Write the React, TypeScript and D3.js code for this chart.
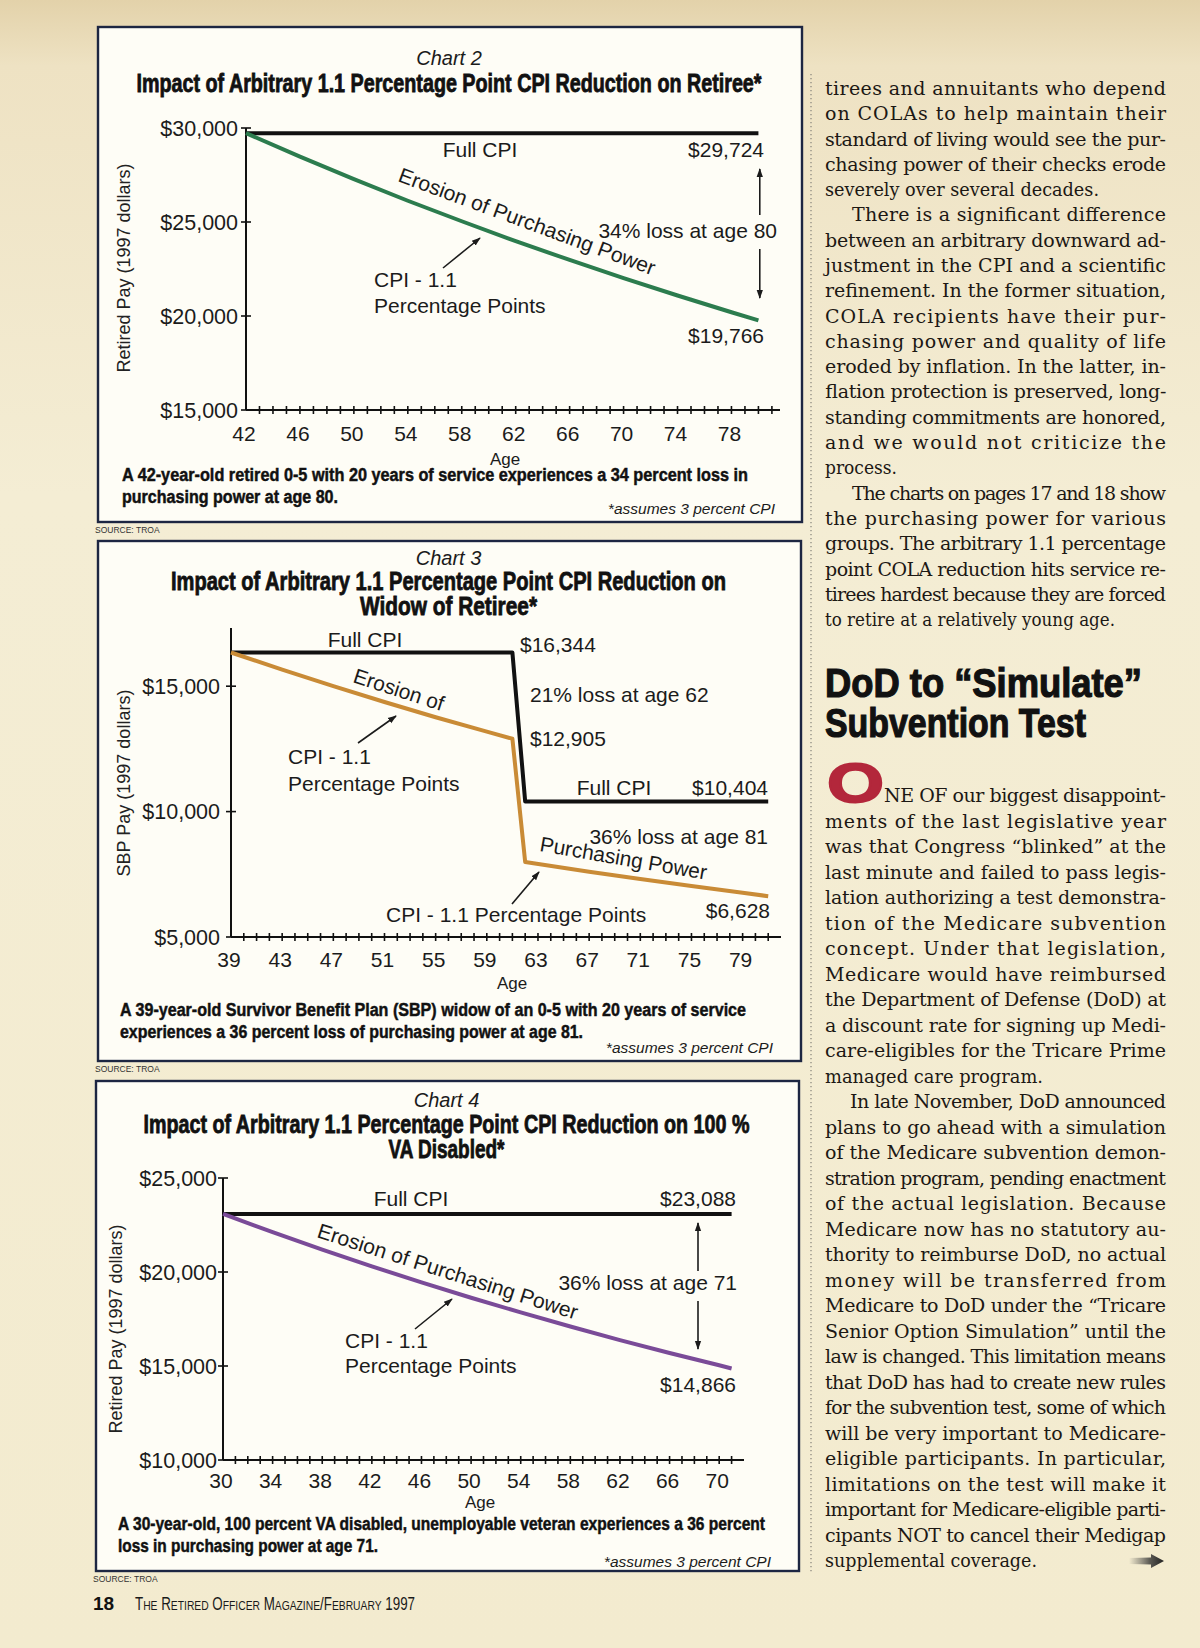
import * as d3 from "d3";

const SANS = "'Liberation Sans', Arial, Helvetica, sans-serif";
const NARROW = "'Liberation Sans Narrow', 'Liberation Sans', Arial, sans-serif";
const SERIF = "'DejaVu Serif', 'Liberation Serif', serif";
const INK = "#1b1b1b";

// Chart 2: retiree, age 42 to 80
const c2AgeTicks = [42, 46, 50, 54, 58, 62, 66, 70, 74, 78];
const c2PayTicks = [15000, 20000, 25000, 30000];
const c2FullAges = [42, 80];
const c2FullPay = [29724, 29724];
const c2CutAges = [42, 46, 50, 54, 58, 62, 66, 70, 74, 78, 80];
const c2CutPay = [29724, 28480, 27280, 26130, 25040, 23980, 22980, 22010, 21090, 20200, 19766];

// Chart 3: widow of retiree, age 39 to 81 (SBP drop at 62)
const c3AgeTicks = [39, 43, 47, 51, 55, 59, 63, 67, 71, 75, 79];
const c3PayTicks = [5000, 10000, 15000];
const c3FullAges = [39, 61, 62, 81];
const c3FullPay = [16344, 16344, 10404, 10404];
const c3CutAges = [39, 43, 47, 51, 55, 59, 61, 62, 67, 71, 75, 79, 81];
const c3CutPay = [16344, 15660, 15000, 14370, 13760, 13190, 12905, 7990, 7600, 7310, 7030, 6760, 6628];

// Chart 4: 100% VA disabled, age 30 to 71
const c4AgeTicks = [30, 34, 38, 42, 46, 50, 54, 58, 62, 66, 70];
const c4PayTicks = [10000, 15000, 20000, 25000];
const c4FullAges = [30, 71];
const c4FullPay = [23088, 23088];
const c4CutAges = [30, 34, 38, 42, 46, 50, 54, 58, 62, 66, 70, 71];
const c4CutPay = [23088, 22120, 21190, 20300, 19450, 18630, 17850, 17100, 16380, 15690, 15040, 14866];

const money = (v: number) => "$" + d3.format(",")(v);

function Arrow({ x1, y1, x2, y2 }: any) {
  return <line x1={x1} y1={y1} x2={x2} y2={y2} stroke={INK} strokeWidth={1.6} markerEnd="url(#ah)" />;
}

function T(props: any) {
  const { children, ...rest } = props;
  return (
    <text fontFamily={SANS} fontSize={21} fill={INK} {...rest}>
      {children}
    </text>
  );
}

function Panel(p: any) {
  const x = d3.scaleLinear().domain(p.xDomain).range(p.xRange);
  const y = d3.scaleLinear().domain(p.yDomain).range(p.yRange);
  const line = d3
    .line<[number, number]>()
    .x((d) => x(d[0]))
    .y((d) => y(d[1]));
  const x0 = p.xRange[0];
  const y0 = p.yRange[0];
  const minor = d3.range(Math.ceil(p.xDomain[0]) + 1, Math.floor(p.xDomain[1] - 0.3) + 1, 1);
  const cx = p.box.x + p.box.w / 2 - 1;
  return (
    <g>
      <rect x={p.box.x} y={p.box.y} width={p.box.w} height={p.box.h} fill="#fefdf6" stroke="#1d2642" strokeWidth={2.4} />
      <text x={p.box.x - 3} y={p.box.y + p.box.h + 11} fontFamily={SANS} fontSize={8.5} fill="#333">
        SOURCE: TROA
      </text>
      <text x={cx} y={p.labelY} textAnchor="middle" fontFamily={SANS} fontStyle="italic" fontSize={20} fill={INK}>
        {p.label}
      </text>
      {p.titles.map((t: any, i: number) => (
        <text key={i} x={cx} y={t.y} textAnchor="middle" fontFamily={NARROW} fontWeight="bold" fontSize={25}
          fill="#111" stroke="#111" strokeWidth={0.8} textLength={t.w} lengthAdjust="spacingAndGlyphs">
          {t.text}
        </text>
      ))}

      {/* axes */}
      <line x1={x0} y1={p.yRange[1]} x2={x0} y2={y0} stroke="#111" strokeWidth={2} />
      <line x1={x0} y1={y0} x2={p.xRange[1]} y2={y0} stroke="#111" strokeWidth={2} />
      {minor.map((a: number) => (
        <line key={a} x1={x(a)} x2={x(a)} y1={y0 - 4} y2={y0 + 4} stroke="#111" strokeWidth={1.6} />
      ))}
      {p.payTicks.map((v: number) => (
        <g key={v}>
          <line x1={x0 - 5} x2={v === p.yDomain[0] ? x0 : x0 + 5} y1={y(v)} y2={y(v)} stroke="#111" strokeWidth={1.6} />
          <T x={x0 - p.tickGap} y={y(v) + 7.5} textAnchor="end" fontSize={21.5}>
            {money(v)}
          </T>
        </g>
      ))}
      {p.ageTicks.map((a: number) => (
        <T key={a} x={x(a) - 2} y={p.ageLabelY} textAnchor="middle" fontSize={21}>
          {a}
        </T>
      ))}
      <T x={p.ageTitle[0]} y={p.ageTitle[1]} textAnchor="middle" fontSize={17}>
        Age
      </T>
      <T transform={`translate(${p.yTitle[0]},${p.yTitle[1]}) rotate(-90)`} textAnchor="middle" fontSize={18} fill="#222">
        {p.yTitleText}
      </T>

      {/* series */}
      {p.series.map((s: any, i: number) => (
        <path key={i} d={line(s.ages.map((a: number, j: number) => [a, s.pay[j]]) as any) || ""} fill="none"
          stroke={s.color} strokeWidth={4} strokeLinejoin="round" />
      ))}

      {p.annotate(x, y)}

      {p.captions.map((c: any, i: number) => (
        <text key={i} x={p.captionX} y={c.y} fontFamily={NARROW} fontWeight="bold" fontSize={17.5} fill="#111"
          stroke="#111" strokeWidth={0.45} textLength={c.w} lengthAdjust="spacingAndGlyphs">
          {c.text}
        </text>
      ))}
      <text x={p.assumes[0]} y={p.assumes[1]} textAnchor="end" fontFamily={SANS} fontStyle="italic" fontSize={15.5} fill={INK}>
        *assumes 3 percent CPI
      </text>
    </g>
  );
}

type Line = { t: string; w?: number; ind?: number };

const colTop: Line[] = [
  { t: "tirees and annuitants who depend" },
  { t: "on COLAs to help maintain their" },
  { t: "standard of living would see the pur-" },
  { t: "chasing power of their checks erode" },
  { t: "severely over several decades.", w: 274 },
  { t: "There is a significant difference", ind: 27 },
  { t: "between an arbitrary downward ad-" },
  { t: "justment in the CPI and a scientific" },
  { t: "refinement. In the former situation," },
  { t: "COLA recipients have their pur-" },
  { t: "chasing power and quality of life" },
  { t: "eroded by inflation. In the latter, in-" },
  { t: "flation protection is preserved, long-" },
  { t: "standing commitments are honored," },
  { t: "and we would not criticize the" },
  { t: "process.", w: 72 },
  { t: "The charts on pages 17 and 18 show", ind: 27 },
  { t: "the purchasing power for various" },
  { t: "groups. The arbitrary 1.1 percentage" },
  { t: "point COLA reduction hits service re-" },
  { t: "tirees hardest because they are forced" },
  { t: "to retire at a relatively young age.", w: 290 },
];

const colBottom: Line[] = [
  { t: "NE OF our biggest disappoint-", ind: 59 },
  { t: "ments of the last legislative year" },
  { t: "was that Congress \u201cblinked\u201d at the" },
  { t: "last minute and failed to pass legis-" },
  { t: "lation authorizing a test demonstra-" },
  { t: "tion of the Medicare subvention" },
  { t: "concept. Under that legislation," },
  { t: "Medicare would have reimbursed" },
  { t: "the Department of Defense (DoD) at" },
  { t: "a discount rate for signing up Medi-" },
  { t: "care-eligibles for the Tricare Prime" },
  { t: "managed care program.", w: 218 },
  { t: "In late November, DoD announced", ind: 25 },
  { t: "plans to go ahead with a simulation" },
  { t: "of the Medicare subvention demon-" },
  { t: "stration program, pending enactment" },
  { t: "of the actual legislation. Because" },
  { t: "Medicare now has no statutory au-" },
  { t: "thority to reimburse DoD, no actual" },
  { t: "money will be transferred from" },
  { t: "Medicare to DoD under the \u201cTricare" },
  { t: "Senior Option Simulation\u201d until the" },
  { t: "law is changed. This limitation means" },
  { t: "that DoD has had to create new rules" },
  { t: "for the subvention test, some of which" },
  { t: "will be very important to Medicare-" },
  { t: "eligible participants. In particular," },
  { t: "limitations on the test will make it" },
  { t: "important for Medicare-eligible parti-" },
  { t: "cipants NOT to cancel their Medigap" },
  { t: "supplemental coverage.", w: 212 },
];

const COL_X = 825;
const COL_W = 341;

function Column({ lines, top, step }: { lines: Line[]; top: number; step: number }) {
  return (
    <g>
      {lines.map((l, i) => {
        const ind = l.ind || 0;
        return (
          <text key={i} x={COL_X + ind} y={top + i * step} fontFamily={SERIF} fontSize={19} fill="#1c1814"
            textLength={l.w ?? COL_W - ind} lengthAdjust={l.w ? "spacingAndGlyphs" : "spacing"}>
            {l.t}
          </text>
        );
      })}
    </g>
  );
}

export default function App() {
  return (
    <svg width={1200} height={1648} viewBox="0 0 1200 1648" style={{ position: "absolute", left: 0, top: 0, display: "block" }}>
      <defs>
        <linearGradient id="paper" x1="0" y1="0" x2="0" y2="1">
          <stop offset="0" stopColor="#e3d2aa" />
          <stop offset="0.04" stopColor="#eee2c3" />
          <stop offset="0.3" stopColor="#f4edd4" />
          <stop offset="1" stopColor="#f3ebcf" />
        </linearGradient>
        <linearGradient id="arrowfade" x1="0" x2="1">
          <stop offset="0" stopColor="#444" stopOpacity="0" />
          <stop offset="0.6" stopColor="#333" stopOpacity="0.8" />
          <stop offset="1" stopColor="#222" />
        </linearGradient>
        <marker id="ah" viewBox="0 0 10 10" refX="9" refY="5" markerWidth="9" markerHeight="9"
          markerUnits="userSpaceOnUse" orient="auto">
          <path d="M0,1.5 L10,5 L0,8.5 z" fill={INK} />
        </marker>
      </defs>
      <rect width={1200} height={1648} fill="url(#paper)" />

      {/* Chart 2 */}
      <Panel
        box={{ x: 98, y: 27, w: 704, h: 495 }}
        label="Chart 2"
        labelY={65}
        titles={[{ text: "Impact of Arbitrary 1.1 Percentage Point CPI Reduction on Retiree*", y: 92, w: 625 }]}
        xDomain={[42, 81.6]}
        xRange={[246, 780]}
        yDomain={[15000, 30000]}
        yRange={[410, 128]}
        ageTicks={c2AgeTicks}
        payTicks={c2PayTicks}
        tickGap={8}
        ageLabelY={441}
        ageTitle={[505, 465]}
        yTitle={[130, 268]}
        yTitleText="Retired Pay (1997 dollars)"
        series={[
          { ages: c2FullAges, pay: c2FullPay, color: "#111" },
          { ages: c2CutAges, pay: c2CutPay, color: "#2c7c4e" },
        ]}
        captionX={122}
        captions={[
          { text: "A 42-year-old retired 0-5 with 20 years of service experiences a 34 percent loss in", y: 481, w: 626 },
          { text: "purchasing power at age 80.", y: 503, w: 216 },
        ]}
        assumes={[775, 514]}
        annotate={(x: any, y: any) => (
          <g>
            <T x={480} y={157} textAnchor="middle">Full CPI</T>
            <T x={764} y={157} textAnchor="end">{money(c2FullPay[1])}</T>
            <Arrow x1={x(80.1)} y1={215} x2={x(80.1)} y2={169} />
            <T x={777} y={238} textAnchor="end">34% loss at age 80</T>
            <Arrow x1={x(80.1)} y1={249} x2={x(80.1)} y2={298} />
            <T transform="translate(397,181) rotate(20.3)" textLength={272} lengthAdjust="spacingAndGlyphs">
              Erosion of Purchasing Power
            </T>
            <Arrow x1={443} y1={268} x2={480} y2={238} />
            <T x={374} y={287}>CPI - 1.1</T>
            <T x={374} y={313}>Percentage Points</T>
            <T x={764} y={y(c2CutPay[c2CutPay.length - 1]) + 23} textAnchor="end">
              {money(c2CutPay[c2CutPay.length - 1])}
            </T>
          </g>
        )}
      />

      {/* Chart 3 */}
      <Panel
        box={{ x: 98, y: 541, w: 703, h: 520 }}
        label="Chart 3"
        labelY={565}
        titles={[
          { text: "Impact of Arbitrary 1.1 Percentage Point CPI Reduction on", y: 590, w: 555 },
          { text: "Widow of Retiree*", y: 615, w: 177 },
        ]}
        xDomain={[39, 82]}
        xRange={[231, 781]}
        yDomain={[5000, 17320]}
        yRange={[937, 628]}
        ageTicks={c3AgeTicks}
        payTicks={c3PayTicks}
        tickGap={11}
        ageLabelY={967}
        ageTitle={[512, 989]}
        yTitle={[130, 783]}
        yTitleText="SBP Pay (1997 dollars)"
        series={[
          { ages: c3FullAges, pay: c3FullPay, color: "#111" },
          { ages: c3CutAges, pay: c3CutPay, color: "#c98b36" },
        ]}
        captionX={120}
        captions={[
          { text: "A 39-year-old Survivor Benefit Plan (SBP) widow of an 0-5 with 20 years of service", y: 1016, w: 626 },
          { text: "experiences a 36 percent loss of purchasing power at age 81.", y: 1038, w: 463 },
        ]}
        assumes={[773, 1053]}
        annotate={(x: any, y: any) => (
          <g>
            <T x={365} y={647} textAnchor="middle">Full CPI</T>
            <T x={520} y={652}>{money(c3FullPay[0])}</T>
            <T x={530} y={702}>21% loss at age 62</T>
            <T x={530} y={746}>{money(c3CutPay[6])}</T>
            <T x={614} y={795} textAnchor="middle">Full CPI</T>
            <T x={768} y={795} textAnchor="end">{money(c3FullPay[3])}</T>
            <T x={768} y={844} textAnchor="end">36% loss at age 81</T>
            <T transform="translate(352,682) rotate(18)" textLength={94} lengthAdjust="spacingAndGlyphs">Erosion of</T>
            <T transform="translate(539,851) rotate(9.8)" textLength={169} lengthAdjust="spacingAndGlyphs">
              Purchasing Power
            </T>
            <Arrow x1={358} y1={743} x2={396} y2={716} />
            <T x={288} y={764}>CPI - 1.1</T>
            <T x={288} y={791}>Percentage Points</T>
            <Arrow x1={512} y1={904} x2={539} y2={872} />
            <T x={386} y={922}>CPI - 1.1 Percentage Points</T>
            <T x={770} y={y(c3CutPay[c3CutPay.length - 1]) + 22} textAnchor="end">
              {money(c3CutPay[c3CutPay.length - 1])}
            </T>
          </g>
        )}
      />

      {/* Chart 4 */}
      <Panel
        box={{ x: 96, y: 1081, w: 703, h: 490 }}
        label="Chart 4"
        labelY={1107}
        titles={[
          { text: "Impact of Arbitrary 1.1 Percentage Point CPI Reduction on 100 %", y: 1133, w: 606 },
          { text: "VA Disabled*", y: 1158, w: 116 },
        ]}
        xDomain={[30, 72]}
        xRange={[223, 744]}
        yDomain={[10000, 25000]}
        yRange={[1460, 1178]}
        ageTicks={c4AgeTicks}
        payTicks={c4PayTicks}
        tickGap={6}
        ageLabelY={1488}
        ageTitle={[480, 1508]}
        yTitle={[122, 1329]}
        yTitleText="Retired Pay (1997 dollars)"
        series={[
          { ages: c4FullAges, pay: c4FullPay, color: "#111" },
          { ages: c4CutAges, pay: c4CutPay, color: "#7a4b98" },
        ]}
        captionX={118}
        captions={[
          { text: "A 30-year-old, 100 percent VA disabled, unemployable veteran experiences a 36 percent", y: 1530, w: 647 },
          { text: "loss in purchasing power at age 71.", y: 1552, w: 260 },
        ]}
        assumes={[771, 1567]}
        annotate={(x: any, y: any) => (
          <g>
            <T x={411} y={1206} textAnchor="middle">Full CPI</T>
            <T x={736} y={1206} textAnchor="end">{money(c4FullPay[0])}</T>
            <Arrow x1={698} y1={1271} x2={698} y2={1223} />
            <T x={737} y={1290} textAnchor="end">36% loss at age 71</T>
            <Arrow x1={698} y1={1301} x2={698} y2={1349} />
            <T transform="translate(316,1237) rotate(17.7)" textLength={272} lengthAdjust="spacingAndGlyphs">
              Erosion of Purchasing Power
            </T>
            <Arrow x1={415} y1={1329} x2={452} y2={1299} />
            <T x={345} y={1348}>CPI - 1.1</T>
            <T x={345} y={1373}>Percentage Points</T>
            <T x={736} y={y(c4CutPay[c4CutPay.length - 1]) + 23} textAnchor="end">
              {money(c4CutPay[c4CutPay.length - 1])}
            </T>
          </g>
        )}
      />

      {/* footer */}
      <text x={93} y={1610} fontFamily={SANS} fontWeight="bold" fontSize={19} fill="#111">18</text>
      <text x={135} y={1610} fontFamily={NARROW} fontSize={17.5} fill="#1a1a1a" textLength={280} lengthAdjust="spacingAndGlyphs">
        T<tspan fontSize={13.5}>HE</tspan> R<tspan fontSize={13.5}>ETIRED</tspan> O<tspan fontSize={13.5}>FFICER</tspan> M
        <tspan fontSize={13.5}>AGAZINE</tspan>/F<tspan fontSize={13.5}>EBRUARY</tspan> 1997
      </text>

      {/* right column */}
      <line x1={811} y1={74} x2={811} y2={1572} stroke="#8d8a80" strokeWidth={1.3} strokeDasharray="1.3 2.7" />
      <Column lines={colTop} top={95} step={25.29} />
      <text x={COL_X} y={697} fontFamily={NARROW} fontWeight="bold" fontSize={41} fill="#111" stroke="#111" strokeWidth={1.2}
        textLength={317} lengthAdjust="spacingAndGlyphs">
        DoD to {"\u201c"}Simulate{"\u201d"}
      </text>
      <text x={COL_X} y={737} fontFamily={NARROW} fontWeight="bold" fontSize={41} fill="#111" stroke="#111" strokeWidth={1.2}
        textLength={261} lengthAdjust="spacingAndGlyphs">
        Subvention Test
      </text>
      <text x={827} y={802} fontFamily={SANS} fontWeight="bold" fontSize={56} fill="#b3273b" stroke="#b3273b" strokeWidth={2}
        textLength={57} lengthAdjust="spacingAndGlyphs">
        O
      </text>
      <Column lines={colBottom} top={802} step={25.5} />
      <path d="M1129,1558 L1151,1557.5 L1151,1554 L1164,1561 L1151,1568 L1151,1564.5 L1129,1564 Z" fill="url(#arrowfade)" />
    </svg>
  );
}
